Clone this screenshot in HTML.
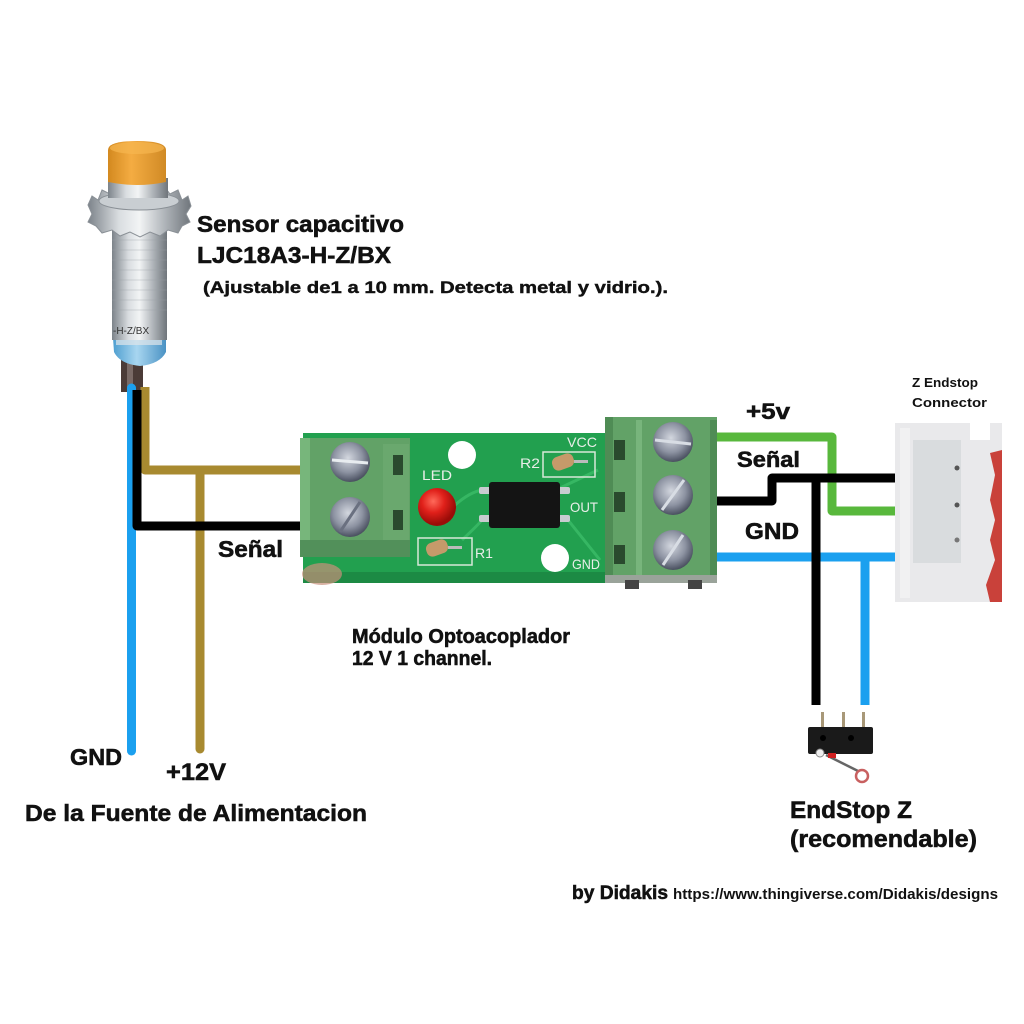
<!DOCTYPE html>
<html><head><meta charset="utf-8"><style>
html,body{margin:0;padding:0;background:#fff;}
svg{display:block;}
text{font-family:"Liberation Sans",sans-serif;font-weight:bold;fill:#111;}
.t{stroke:#111;stroke-width:0.55;}
</style></head><body>
<svg width="1024" height="1024" viewBox="0 0 1024 1024" xmlns="http://www.w3.org/2000/svg">
<defs>
<linearGradient id="silver" x1="0" x2="1" y1="0" y2="0">
<stop offset="0" stop-color="#7c838a"/><stop offset="0.3" stop-color="#d9dde0"/><stop offset="0.5" stop-color="#f2f4f5"/><stop offset="0.75" stop-color="#aeb3b8"/><stop offset="1" stop-color="#6f757b"/>
</linearGradient>
<linearGradient id="orange" x1="0" x2="1" y1="0" y2="0">
<stop offset="0" stop-color="#d3891f"/><stop offset="0.4" stop-color="#f4ac42"/><stop offset="1" stop-color="#d08a25"/>
</linearGradient>
<linearGradient id="blueband" x1="0" x2="1" y1="0" y2="0">
<stop offset="0" stop-color="#4f9fd0"/><stop offset="0.45" stop-color="#a8d6f0"/><stop offset="1" stop-color="#4a92c4"/>
</linearGradient>
<radialGradient id="screw" cx="0.45" cy="0.4" r="0.6">
<stop offset="0" stop-color="#d3d7df"/><stop offset="0.6" stop-color="#8d93a2"/><stop offset="1" stop-color="#4a5060"/>
</radialGradient>
<radialGradient id="led" cx="0.4" cy="0.35" r="0.6">
<stop offset="0" stop-color="#ff6a5a"/><stop offset="0.5" stop-color="#e0201a"/><stop offset="1" stop-color="#9a0c08"/>
</radialGradient>
</defs>

<!-- Sensor -->
<rect x="121" y="358" width="22" height="34" fill="#4b3b37"/>
<rect x="127" y="358" width="6" height="34" fill="#7a6a66"/>
<path d="M113,338 H166 V352 Q160,364 140,366 Q120,364 114,352 Z" fill="url(#blueband)"/>
<rect x="112" y="226" width="55" height="114" fill="url(#silver)"/>
<g stroke="#9aa0a6" stroke-width="0.6" opacity="0.7">
<line x1="112" y1="240" x2="167" y2="240"/><line x1="112" y1="250" x2="167" y2="250"/><line x1="112" y1="260" x2="167" y2="260"/><line x1="112" y1="270" x2="167" y2="270"/><line x1="112" y1="280" x2="167" y2="280"/><line x1="112" y1="290" x2="167" y2="290"/><line x1="112" y1="300" x2="167" y2="300"/><line x1="112" y1="310" x2="167" y2="310"/>
</g>
<text x="113" y="334" font-size="10" style="font-weight:normal;fill:#333">-H-Z/BX</text>
<rect x="116" y="340" width="46" height="5" fill="#dfe6ea" opacity="0.7"/>
<!-- nut / washer -->
<path d="M88,205 L92,196 L98,200 L102,190 L110,194 L116,186 L124,191 L132,184 L140,190 L148,184 L156,191 L164,186 L170,194 L178,190 L182,200 L188,196 L191,206 L186,214 L190,222 L182,226 L178,233 L168,230 L160,236 L150,232 L140,237 L130,232 L120,236 L112,230 L102,233 L96,226 L88,222 L92,214 Z" fill="url(#silver)" stroke="#8a9096" stroke-width="1"/>
<ellipse cx="139" cy="201" rx="40" ry="9" fill="#c9ced2" stroke="#8a9096" stroke-width="1"/>
<rect x="108" y="178" width="60" height="20" fill="url(#silver)"/>
<!-- orange cap -->
<path d="M108,150 Q108,141 137,141 Q166,141 166,150 V182 Q137,188 108,182 Z" fill="url(#orange)"/>
<ellipse cx="137" cy="148" rx="27" ry="6" fill="#f7b750" opacity="0.7"/>

<!-- Left wires -->
<path d="M131.5,388 V751" stroke="#1ba0ef" stroke-width="9" fill="none" stroke-linecap="round"/>
<path d="M145,387 V470 H304" stroke="#a88a30" stroke-width="9" fill="none" stroke-linejoin="round"/>
<path d="M200,470 V749" stroke="#a88a30" stroke-width="9" fill="none" stroke-linecap="round"/>
<path d="M137,390 V526 H304" stroke="#000" stroke-width="9" fill="none" stroke-linejoin="round"/>

<!-- Right wires -->
<path d="M712,437 H832 V511 H897" stroke="#58b83c" stroke-width="9" fill="none" stroke-linejoin="round"/>
<path d="M712,557 H897" stroke="#1ba0ef" stroke-width="9" fill="none"/>
<path d="M865,557 V705" stroke="#1ba0ef" stroke-width="9" fill="none"/>
<path d="M712,501 H772 V478 H897" stroke="#000" stroke-width="9" fill="none" stroke-linejoin="round"/>
<path d="M816,478 V705" stroke="#000" stroke-width="9" fill="none"/>

<!-- PCB -->
<rect x="303" y="433" width="304" height="150" fill="#22a04f"/>
<rect x="303" y="572" width="304" height="11" fill="#1c8a44"/>
<ellipse cx="322" cy="574" rx="20" ry="11" fill="#c8907a" opacity="0.7"/>
<!-- traces -->
<g stroke="#3cbd68" stroke-width="3" fill="none" opacity="0.8">
<path d="M455,505 Q470,492 482,490"/>
<path d="M462,540 Q478,525 482,520"/>
<path d="M568,520 L600,560"/>
<path d="M560,488 L598,470"/>
</g>
<circle cx="462" cy="455" r="14" fill="#fff"/>
<circle cx="555" cy="558" r="14" fill="#fff"/>
<!-- chip -->
<rect x="479" y="487" width="12" height="7" rx="2" fill="#c8ccd0"/>
<rect x="479" y="515" width="12" height="7" rx="2" fill="#c8ccd0"/>
<rect x="558" y="487" width="12" height="7" rx="2" fill="#c8ccd0"/>
<rect x="558" y="515" width="12" height="7" rx="2" fill="#c8ccd0"/>
<rect x="489" y="482" width="71" height="46" rx="3" fill="#141414"/>
<!-- LED -->
<circle cx="437" cy="507" r="19" fill="url(#led)"/>
<!-- R2 -->
<rect x="543" y="452" width="52" height="25" fill="none" stroke="#d8e8d8" stroke-width="1.5"/>
<rect x="552" y="455" width="22" height="14" rx="6" fill="#c59a6a" transform="rotate(-20 563 462)"/>
<rect x="574" y="460" width="14" height="3" fill="#bbb"/>
<!-- R1 -->
<rect x="418" y="538" width="54" height="27" fill="none" stroke="#d8e8d8" stroke-width="1.5"/>
<rect x="426" y="541" width="22" height="14" rx="6" fill="#c59a6a" transform="rotate(-20 437 548)"/>
<rect x="448" y="546" width="14" height="3" fill="#bbb"/>
<!-- PCB labels -->
<text x="422" y="480" font-size="14" textLength="30" lengthAdjust="spacingAndGlyphs" style="fill:#e8eee8;font-weight:normal">LED</text>
<text x="567" y="447" font-size="14" textLength="30" lengthAdjust="spacingAndGlyphs" style="fill:#e8eee8;font-weight:normal">VCC</text>
<text x="520" y="468" font-size="14" textLength="20" lengthAdjust="spacingAndGlyphs" style="fill:#e8eee8;font-weight:normal">R2</text>
<text x="570" y="512" font-size="14" textLength="28" lengthAdjust="spacingAndGlyphs" style="fill:#e8eee8;font-weight:normal">OUT</text>
<text x="475" y="558" font-size="14" textLength="18" lengthAdjust="spacingAndGlyphs" style="fill:#e8eee8;font-weight:normal">R1</text>
<text x="572" y="569" font-size="14" textLength="28" lengthAdjust="spacingAndGlyphs" style="fill:#e8eee8;font-weight:normal">GND</text>

<!-- Left terminal block -->
<rect x="300" y="438" width="110" height="119" fill="#62a267"/>
<rect x="300" y="438" width="10" height="119" fill="#77b67b"/>
<rect x="383" y="444" width="26" height="105" fill="#6aa86e"/>
<rect x="393" y="455" width="10" height="20" fill="#2a4a2e"/>
<rect x="393" y="510" width="10" height="20" fill="#2a4a2e"/>
<rect x="300" y="540" width="110" height="17" fill="#52905a"/>
<circle cx="350" cy="462" r="20" fill="url(#screw)"/>
<line x1="332" y1="460" x2="368" y2="463" stroke="#e8ecf0" stroke-width="3"/>
<circle cx="350" cy="517" r="20" fill="url(#screw)"/>
<line x1="340" y1="532" x2="360" y2="502" stroke="#6a7080" stroke-width="3"/>

<!-- Right terminal block -->
<rect x="605" y="417" width="112" height="162" fill="#62a267"/>
<rect x="605" y="417" width="8" height="162" fill="#4f8c55"/>
<rect x="636" y="420" width="6" height="156" fill="#78b57c"/>
<rect x="710" y="420" width="7" height="156" fill="#4f8c55"/>
<rect x="614" y="440" width="11" height="20" fill="#2a4a2e"/>
<rect x="614" y="492" width="11" height="20" fill="#2a4a2e"/>
<rect x="614" y="545" width="11" height="19" fill="#2a4a2e"/>
<rect x="605" y="575" width="112" height="8" fill="#9aa39a"/>
<rect x="625" y="580" width="14" height="9" fill="#444"/>
<rect x="688" y="580" width="14" height="9" fill="#444"/>
<circle cx="673" cy="442" r="20" fill="url(#screw)"/>
<line x1="655" y1="440" x2="691" y2="444" stroke="#d8dde4" stroke-width="3"/>
<circle cx="673" cy="495" r="20" fill="url(#screw)"/>
<line x1="662" y1="510" x2="684" y2="480" stroke="#d8dde4" stroke-width="3"/>
<circle cx="673" cy="550" r="20" fill="url(#screw)"/>
<line x1="663" y1="565" x2="683" y2="535" stroke="#d8dde4" stroke-width="3"/>

<!-- Z endstop connector -->
<path d="M895,423 H970 V440 H990 V423 H1002 V602 H895 Z" fill="#e9e9eb"/>
<path d="M990,453 L1002,450 V602 H990 L986,585 L995,560 L990,540 L995,520 L990,500 L995,475 Z" fill="#c9413a"/>
<rect x="913" y="440" width="48" height="123" fill="#d9dcde"/>
<rect x="900" y="428" width="10" height="170" fill="#f1f1f2"/>
<circle cx="957" cy="468" r="2.5" fill="#555"/>
<circle cx="957" cy="505" r="2.5" fill="#555"/>
<circle cx="957" cy="540" r="2.5" fill="#777"/>

<!-- Microswitch -->
<rect x="821" y="712" width="3" height="16" fill="#a89878"/>
<rect x="842" y="712" width="3" height="16" fill="#a89878"/>
<rect x="862" y="712" width="3" height="16" fill="#a89878"/>
<rect x="808" y="727" width="65" height="27" rx="2" fill="#1a1a1a"/>
<circle cx="823" cy="738" r="3" fill="#000"/>
<circle cx="851" cy="738" r="3" fill="#000"/>
<circle cx="820" cy="753" r="4" fill="#eee" stroke="#888"/>
<line x1="826" y1="755" x2="862" y2="773" stroke="#666" stroke-width="2.5"/>
<rect x="828" y="753" width="8" height="5" fill="#d02020"/>
<circle cx="862" cy="776" r="6" fill="#fff" stroke="#c86060" stroke-width="2.5"/>

<!-- Text -->
<text class="t" x="197" y="232" font-size="23" textLength="207" lengthAdjust="spacingAndGlyphs">Sensor capacitivo</text>
<text class="t" x="197" y="263" font-size="23" textLength="194" lengthAdjust="spacingAndGlyphs">LJC18A3-H-Z/BX</text>
<text class="t" x="203" y="293" font-size="16.5" textLength="465" lengthAdjust="spacingAndGlyphs" style="stroke-width:0.4">(Ajustable de1 a 10 mm. Detecta metal y vidrio.).</text>
<text x="912" y="387" font-size="13" textLength="66" lengthAdjust="spacingAndGlyphs">Z Endstop</text>
<text x="912" y="407" font-size="13" textLength="75" lengthAdjust="spacingAndGlyphs">Connector</text>
<text class="t" x="746" y="419" font-size="22" textLength="44" lengthAdjust="spacingAndGlyphs">+5v</text>
<text class="t" x="737" y="467" font-size="22" textLength="63" lengthAdjust="spacingAndGlyphs">Señal</text>
<text class="t" x="745" y="539" font-size="23" textLength="54" lengthAdjust="spacingAndGlyphs">GND</text>
<text class="t" x="218" y="557" font-size="23" textLength="65" lengthAdjust="spacingAndGlyphs">Señal</text>
<text class="t" x="352" y="643" font-size="20" textLength="218" lengthAdjust="spacingAndGlyphs">Módulo Optoacoplador</text>
<text class="t" x="352" y="665" font-size="20" textLength="140" lengthAdjust="spacingAndGlyphs">12 V 1 channel.</text>
<text class="t" x="70" y="765" font-size="23" textLength="52" lengthAdjust="spacingAndGlyphs">GND</text>
<text class="t" x="166" y="780" font-size="24" textLength="60" lengthAdjust="spacingAndGlyphs">+12V</text>
<text class="t" x="25" y="821" font-size="23" textLength="342" lengthAdjust="spacingAndGlyphs">De la Fuente de Alimentacion</text>
<text class="t" x="790" y="818" font-size="24" textLength="122" lengthAdjust="spacingAndGlyphs">EndStop Z</text>
<text class="t" x="790" y="847" font-size="24" textLength="187" lengthAdjust="spacingAndGlyphs">(recomendable)</text>
<text class="t" x="572" y="899" font-size="19" textLength="96" lengthAdjust="spacingAndGlyphs">by Didakis</text>
<text x="673" y="899" font-size="14.5" textLength="325" lengthAdjust="spacingAndGlyphs">https://www.thingiverse.com/Didakis/designs</text>
</svg>
</body></html>
